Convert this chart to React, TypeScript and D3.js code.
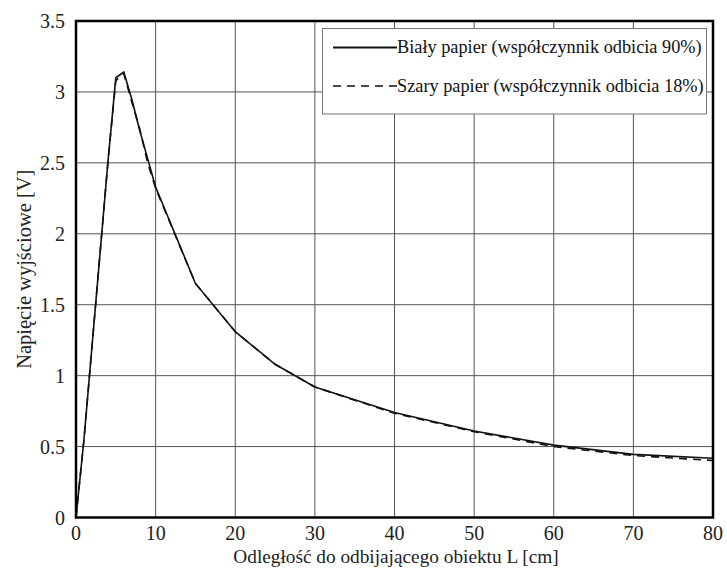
import React from 'react';
import * as d3 from 'd3';

// distance [cm]
const distance = [0, 1, 2, 3, 4, 5, 6, 7, 8, 9, 10, 15, 20, 25, 30, 40, 50, 60, 70, 80];
// white paper (reflectance 90%) output voltage [V]
const whitePaper = [0, 0.55, 1.2, 1.85, 2.5, 3.1, 3.14, 2.95, 2.73, 2.53, 2.33, 1.65, 1.31, 1.08, 0.92, 0.74, 0.61, 0.51, 0.445, 0.418];
// grey paper (reflectance 18%)
const greyPaper = [0, 0.55, 1.2, 1.85, 2.5, 3.08, 3.13, 2.93, 2.74, 2.5, 2.32, 1.65, 1.31, 1.08, 0.92, 0.735, 0.605, 0.5, 0.437, 0.402];

const xTicks = [0, 10, 20, 30, 40, 50, 60, 70, 80];
const yTicks = [0, 0.5, 1, 1.5, 2, 2.5, 3, 3.5];

const legendLabels = [
  'Biały papier (współczynnik odbicia 90%)',
  'Szary papier (współczynnik odbicia 18%)',
];

const W = 727;
const H = 581;
const font = 'Liberation Serif, Times New Roman, DejaVu Serif, serif';

export default function App() {
  const x = d3.scaleLinear().domain([0, 80]).range([76, 713]);
  const y = d3.scaleLinear().domain([0, 3.5]).range([517.5, 21]);

  const line = d3.line<number>()
    .x((_, i) => x(distance[i]))
    .y(d => y(d));

  const [x0, x1] = x.range();
  const [y0, y1] = y.range();

  return (
    <svg width={W} height={H} style={{ position: 'absolute', left: 0, top: 0, background: '#fff', fontFamily: font }}>
      {/* grid */}
      <g stroke="#555" strokeWidth={1}>
        {xTicks.slice(1, -1).map(t => (
          <line key={'gx' + t} x1={x(t)} x2={x(t)} y1={y0} y2={y1} />
        ))}
        {yTicks.slice(1, -1).map(t => (
          <line key={'gy' + t} x1={x0} x2={x1} y1={y(t)} y2={y(t)} />
        ))}
      </g>

      {/* series */}
      <path d={line(greyPaper) ?? ''} fill="none" stroke="#111" strokeWidth={1.6} strokeDasharray="8,6" />
      <path d={line(whitePaper) ?? ''} fill="none" stroke="#111" strokeWidth={1.6} />

      {/* legend */}
      <g>
        <rect x={322.5} y={28.5} width={384} height={85.5} fill="#fff" stroke="#777" strokeWidth={1} />
        <line x1={333} x2={397} y1={47.5} y2={47.5} stroke="#111" strokeWidth={1.8} />
        <line x1={333} x2={397} y1={86} y2={86} stroke="#111" strokeWidth={1.6} strokeDasharray="8,6" />
        <text x={397} y={53} fontSize={18.3} fill="#111">{legendLabels[0]}</text>
        <text x={397} y={92} fontSize={18.3} fill="#111">{legendLabels[1]}</text>
      </g>

      {/* frame */}
      <rect x={x0} y={y1} width={x1 - x0} height={y0 - y1} fill="none" stroke="#000" strokeWidth={2.5} />

      {/* tick labels */}
      <g fontSize={20} fill="#222">
        {xTicks.map(t => (
          <text key={'tx' + t} x={x(t)} y={540} textAnchor="middle">{t}</text>
        ))}
        {yTicks.map(t => (
          <text key={'ty' + t} x={65} y={y(t) + 7} textAnchor="end">{t}</text>
        ))}
      </g>

      {/* axis titles */}
      <text x={396} y={556} dy="0.35em" textAnchor="middle" fontSize={19.3} fill="#222">
        Odległość do odbijającego obiektu L [cm]
      </text>
      <text transform={`translate(24, ${(y0 + y1) / 2}) rotate(-90)`} dy="0.35em" textAnchor="middle"
        fontSize={20.5} fill="#222">
        Napięcie wyjściowe [V]
      </text>
    </svg>
  );
}
